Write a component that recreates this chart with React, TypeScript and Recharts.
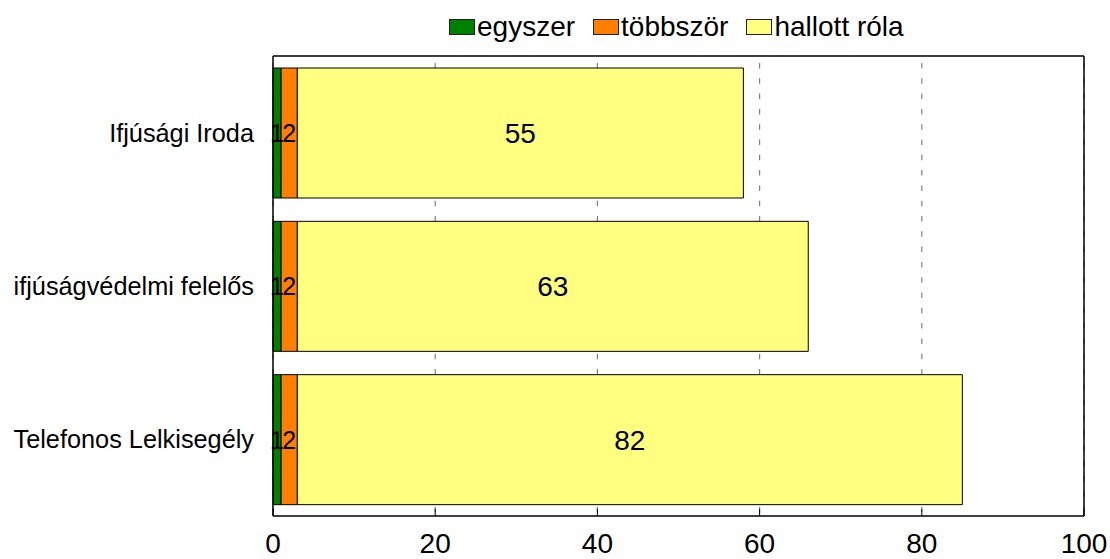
import React from 'react';
import { BarChart, Bar, XAxis, YAxis, CartesianGrid, LabelList } from 'recharts';

const categories = ['Ifjúsági Iroda', 'ifjúságvédelmi felelős', 'Telefonos Lelkisegély'];
const egyszer = [1, 1, 1];
const tobbszor = [2, 2, 2];
const hallott = [55, 63, 82];
const xTicks = [0, 20, 40, 60, 80, 100];
const seriesNames = ['egyszer', 'többször', 'hallott róla'];
const seriesColors = ['#008000', '#FF8000', '#FFFF80'];

const data = categories.map((name, i) => ({
  name,
  egyszer: egyszer[i],
  tobbszor: tobbszor[i],
  hallott: hallott[i],
}));

const FONT = '"Liberation Sans", Arial, sans-serif';

const BottomTick = (props: any) => {
  const { x, payload } = props;
  const axisY = 516;
  return (
    <g>
      <line x1={x} x2={x} y1={axisY} y2={axisY - 7} stroke="#000" strokeWidth={1} />
      <text x={x} y={axisY + 37} textAnchor="middle" fontSize={28} fontFamily={FONT} fill="#000">
        {payload.value}
      </text>
    </g>
  );
};

const TopTick = (props: any) => {
  const { x } = props;
  const axisY = 55;
  return <line x1={x} x2={x} y1={axisY} y2={axisY + 8} stroke="#000" strokeWidth={1} />;
};

const LeftTick = (props: any) => {
  const { x, y, payload } = props;
  return (
    <text x={x - 19} y={y} dy="0.355em" textAnchor="end" fontSize={25.3} fontFamily={FONT} fill="#000">
      {payload.value}
    </text>
  );
};

const LegendBox = () => (
  <div
    style={{
      position: 'absolute',
      left: 449,
      top: 12,
      height: 30,
      display: 'flex',
      alignItems: 'center',
      fontFamily: FONT,
      fontSize: 28,
      lineHeight: '28px',
      color: '#000',
      whiteSpace: 'nowrap',
    }}
  >
    {seriesNames.map((n, i) => (
      <div key={n} style={{ display: 'flex', alignItems: 'center', marginRight: i < seriesNames.length - 1 ? 18 : 0 }}>
        <div
          style={{
            width: 24,
            height: 14,
            background: seriesColors[i],
            border: '1px solid #222',
            marginRight: 2,
          }}
        />
        <span>{n}</span>
      </div>
    ))}
  </div>
);

export default function App() {
  return (
    <div
      style={{
        position: 'absolute',
        left: 0,
        top: 0,
        width: 1110,
        height: 559,
        background: '#fff',
        fontFamily: FONT,
      }}
    >
      <BarChart
        width={1110}
        height={559}
        data={data}
        layout="vertical"
        barSize={130}
        margin={{ top: 55, right: 25, bottom: 0, left: 0 }}
      >
        <CartesianGrid
          horizontal={false}
          vertical={true}
          stroke="#808080"
          strokeWidth={1.2}
          strokeDasharray="0 7 5.5 2.8"
        />
        <XAxis
          type="number"
          xAxisId={0}
          domain={[0, 100]}
          ticks={xTicks}
          interval={0}
          height={43}
          tickSize={0}
          tickMargin={0}
          tickLine={false}
          axisLine={{ stroke: '#000', strokeWidth: 1.5 }}
          tick={<BottomTick />}
        />
        <XAxis
          type="number"
          xAxisId="top"
          orientation="top"
          domain={[0, 100]}
          ticks={xTicks}
          interval={0}
          height={1}
          tickSize={0}
          tickMargin={0}
          tickLine={false}
          axisLine={{ stroke: '#000', strokeWidth: 1.5 }}
          tick={<TopTick />}
        />
        <YAxis
          type="category"
          yAxisId={0}
          dataKey="name"
          width={273}
          tickSize={0}
          tickMargin={0}
          tickLine={false}
          axisLine={{ stroke: '#000', strokeWidth: 1.5 }}
          tick={<LeftTick />}
        />
        <YAxis
          type="category"
          yAxisId="right"
          orientation="right"
          dataKey="name"
          width={1}
          tickLine={false}
          tick={false}
          axisLine={{ stroke: '#000', strokeWidth: 1.5 }}
        />
        <Bar dataKey="egyszer" stackId="a" fill={seriesColors[0]} stroke="#000" strokeWidth={1} isAnimationActive={false}>
          <LabelList dataKey="egyszer" position="center" fill="#000" fontSize={25} fontFamily={FONT} />
        </Bar>
        <Bar dataKey="tobbszor" stackId="a" fill={seriesColors[1]} stroke="#000" strokeWidth={1} isAnimationActive={false}>
          <LabelList dataKey="tobbszor" position="center" fill="#000" fontSize={25} fontFamily={FONT} />
        </Bar>
        <Bar dataKey="hallott" stackId="a" fill={seriesColors[2]} stroke="#000" strokeWidth={1} isAnimationActive={false}>
          <LabelList dataKey="hallott" position="center" fill="#000" fontSize={28} fontFamily={FONT} />
        </Bar>
      </BarChart>
      <LegendBox />
    </div>
  );
}
